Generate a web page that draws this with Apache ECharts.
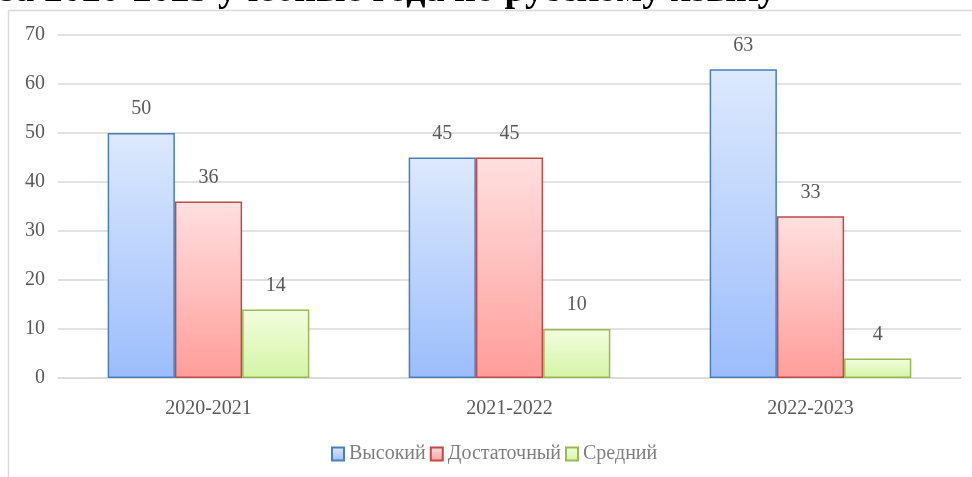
<!DOCTYPE html>
<html><head><meta charset="utf-8">
<script src="https://cdn.jsdelivr.net/npm/echarts@6/dist/echarts.min.js"></script>
<style>html,body{margin:0;padding:0;background:#fff}#c{width:972px;height:477px}</style>
</head><body><div id="c"></div>
<script>
const categories = ['2020-2021', '2021-2022', '2022-2023'];
const seriesNames = ['Высокий', 'Достаточный', 'Средний'];
const vysokiy = [50, 45, 63];
const dostatochny = [36, 45, 33];
const sredniy = [14, 10, 4];
const yTicks = [0, 10, 20, 30, 40, 50, 60, 70];
const titleText = 'за 2020-2023 учебные года по русскому языку';

const FONT = '"Liberation Serif", "DejaVu Serif", serif';
const styles = [
  {border: '#4a7ebb', top: '#dde9fd', bottom: '#9cbdfb'},
  {border: '#be4b48', top: '#ffe0e0', bottom: '#ff9d9a'},
  {border: '#98b954', top: '#f2fddf', bottom: '#d5f4a6'}
];
const values = [vysokiy, dostatochny, sredniy];

const chart = echarts.init(document.getElementById('c'), null, {renderer: 'canvas'});
chart.setOption({
  animation: false,
  graphic: [
    {type: 'text', left: 0, top: -28, z: 1, style: {text: titleText, font: 'bold 38px ' + FONT, fill: '#000'}},
    {type: 'rect', shape: {x: 8.5, y: 10.5, width: 1000, height: 500}, z: 2, style: {fill: 'none', stroke: '#d9d9d9', lineWidth: 1.5}}
  ],
  legend: {
    bottom: 8, left: 326, itemWidth: 12, itemHeight: 13, itemGap: 4,
    icon: 'rect',
    textStyle: {fontFamily: FONT, fontSize: 20, color: '#7f7f7f', padding: [0, 0, 0, 0]},
    data: seriesNames
  },
  grid: {left: 58, right: 11, top: 35, bottom: 99, containLabel: false},
  xAxis: {
    type: 'category', data: categories,
    axisLine: {show: true, lineStyle: {color: '#d9d9d9', width: 1.5}},
    axisTick: {show: false},
    axisLabel: {fontFamily: FONT, fontSize: 20, color: '#595959', margin: 21}
  },
  yAxis: {
    type: 'value', min: yTicks[0], max: yTicks[yTicks.length - 1], interval: 10,
    axisLine: {show: false}, axisTick: {show: false},
    splitLine: {lineStyle: {color: '#d9d9d9', width: 1.5}},
    axisLabel: {fontFamily: FONT, fontSize: 20, color: '#595959', margin: 13}
  },
  series: seriesNames.map((name, i) => ({
    name, type: 'bar', data: values[i],
    barGap: '0%', barCategoryGap: '33%',
    itemStyle: {
      color: new echarts.graphic.LinearGradient(0, 0, 0, 1, [
        {offset: 0, color: styles[i].top}, {offset: 1, color: styles[i].bottom}
      ]),
      borderColor: styles[i].border, borderWidth: 1.5
    },
    label: {show: true, position: 'top', distance: 14, fontFamily: FONT, fontSize: 20, color: '#595959'}
  }))
});
</script></body></html>
